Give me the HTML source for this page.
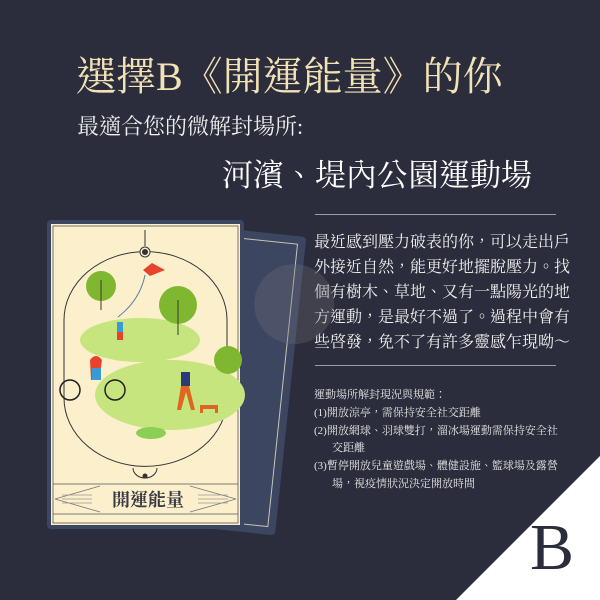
<!DOCTYPE html>
<html><head><meta charset="utf-8"><style>
html,body{margin:0;padding:0}
body{width:600px;height:600px;background:#2b2d3c;position:relative;overflow:hidden;font-family:"Liberation Serif","Noto Serif CJK TC","Noto Serif CJK SC",serif}
.t{position:absolute;white-space:nowrap}
</style></head><body>
<div class="t" style="left:76px;top:45px;font-size:40px;color:#f2e2b6">選擇B《開運能量》的你</div>
<div class="t" style="left:77px;top:110px;font-size:22px;color:#eeeeee">最適合您的微解封場所:</div>
<div class="t" style="left:222px;top:150px;font-size:31px;color:#ffffff">河濱、堤內公園運動場</div>
<div style="position:absolute;left:315px;top:214px;width:241px;height:1px;background:#9a9ca6"></div>
<div class="t" style="left:314px;top:230px;font-size:16px;line-height:25px;color:#f0f0f0">最近感到壓力破表的你，可以走出戶<br>外接近自然，能更好地擺脫壓力。找<br>個有樹木、草地、又有一點陽光的地<br>方運動，是最好不過了。過程中會有<br>些啓發，免不了有許多靈感乍現呦～</div>
<div style="position:absolute;left:315px;top:365px;width:241px;height:1px;background:#9a9ca6"></div>
<div class="t" style="left:314px;top:387px;font-size:11px;line-height:17.8px;color:#e6e6e6">
<div>運動場所解封現況與規範：</div>
<div>(1)開放涼亭，需保持安全社交距離</div>
<div>(2)開放網球、羽球雙打，溜冰場運動需保持安全社<br><span style="padding-left:18px">交距離</span></div>
<div>(3)暫停開放兒童遊戲場、體健設施、籃球場及露營<br><span style="padding-left:18px">場，視疫情狀況決定開放時間</span></div>
</div>
<svg style="position:absolute;left:0;top:0" width="600" height="600">
<polygon points="600,456 600,600 456,600" fill="#ffffff"/>
<g transform="rotate(6 250 390)">
<rect x="130" y="232" width="160" height="300" rx="4" fill="#3d4660"/>
<rect x="140" y="240" width="142" height="284" fill="none" stroke="#c9c3b4" stroke-width="1"/>
<circle cx="285" cy="300" r="40" fill="#6f6f78" opacity="0.3"/>
</g>
<g>
<rect x="47" y="220" width="197" height="309" rx="4" fill="#3d4660"/>
<rect x="51" y="224" width="189" height="301" fill="#fcefcc"/>
<rect x="53" y="226" width="185" height="297" fill="none" stroke="#555" stroke-width="0.8"/>
<path d="M64,320 A81,68 0 0 1 227,320 L227,398 A81,68 0 0 1 64,398 Z" fill="#fcefcc" stroke="#333" stroke-width="1"/>
<line x1="145" y1="230" x2="145" y2="246" stroke="#333"/>
<circle cx="145" cy="252" r="5" fill="#fcefcc" stroke="#333"/><circle cx="145" cy="252" r="3" fill="#333"/>
<ellipse cx="140" cy="340" rx="60" ry="22" fill="#c7e57f"/>
<ellipse cx="170" cy="395" rx="75" ry="35" fill="#c7e57f"/>
<circle cx="101" cy="286" r="15" fill="#7fb830"/><line x1="101" y1="280" x2="101" y2="310" stroke="#3a3a2a"/>
<circle cx="178" cy="305" r="19" fill="#7fb830"/><line x1="178" y1="300" x2="178" y2="335" stroke="#3a3a2a"/>
<circle cx="228" cy="360" r="14" fill="#7fb830"/>
<polygon points="143,270 152,263 165,270 150,276" fill="#e8432a"/>
<path d="M145,275 Q140,300 118,317" fill="none" stroke="#5b7fa8"/>
<rect x="117" y="322" width="6" height="10" fill="#3a9ad6"/><rect x="117" y="332" width="6" height="8" fill="#e8432a"/>
<circle cx="70" cy="390" r="10" fill="none" stroke="#222" stroke-width="1.5"/><circle cx="115" cy="390" r="10" fill="none" stroke="#222" stroke-width="1.5"/>
<path d="M90,360 q6,-8 12,0 l-3,20 h-8 z" fill="#e8432a"/><rect x="92" y="368" width="9" height="12" fill="#3a9ad6"/>
<rect x="181" y="372" width="9" height="14" fill="#2b3a7a"/><path d="M181,386 l-4,24 h4 l5,-18 l5,18 h4 l-6,-24 z" fill="#e06520"/>
<path d="M200,405 h18 v8 h-3 v-4 h-12 v4 h-3 z" fill="#e06520"/>
<ellipse cx="151" cy="433" rx="15" ry="6" fill="#8ccf55"/>
<path d="M133,468 A12,10 0 0 0 157,468" fill="none" stroke="#333"/>
<circle cx="145" cy="476" r="2.5" fill="#333"/>
<line x1="53" y1="484" x2="238" y2="484" stroke="#555" stroke-width="0.8"/>
<line x1="53" y1="514" x2="238" y2="514" stroke="#555" stroke-width="0.8"/>
<path d="M55,499 L100,486 M55,499 L100,512 M236,499 L190,486 M236,499 L190,512" stroke="#777" stroke-width="0.8"/>
<path d="M62,495 h30 M62,499 h30 M62,503 h30 M198,495 h30 M198,499 h30 M198,503 h30" stroke="#999" stroke-width="0.8"/>
</g>
</svg>
<div class="t" style="left:112px;top:486px;font-size:18px;font-weight:bold;color:#3a3a44">開運能量</div>
<div class="t" style="left:530px;top:515px;font-size:66px;color:#2b2d3c;line-height:66px">B</div>
</body></html>
